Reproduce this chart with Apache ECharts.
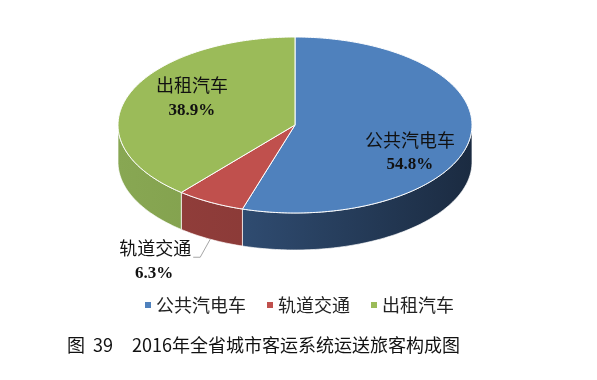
<!DOCTYPE html>
<html>
<head>
<meta charset="utf-8">
<script src="https://cdn.jsdelivr.net/npm/echarts@6/dist/echarts.min.js"></script>
<style>
html,body{margin:0;padding:0;background:#fff;}
#chart{width:597px;height:380px;}
</style>
</head>
<body>
<div id="chart"></div>
<script>
// ---- data ----
const categories = ['公共汽电车', '轨道交通', '出租汽车'];
const values = [54.8, 6.3, 38.9];
const titleText = '2016年全省城市客运系统运送旅客构成图';
const figNo = '图  39';

// ---- styles / layout ----
const topColors = ['#4F81BD', '#C0504D', '#9BBB59'];
const wallColors = [['#3A5D8A', '#1B2B41'], ['#943F3C', '#7D3331'], ['#88A753', '#73903E']];
const CX = 295, CY = 125, RX = 177, RY = 88, DEPTH = 37;
const labelNudge = [[-4, 19], [0, 0], [10, -6]];
const outsideLabel = [false, true, false];
const serif = "'Liberation Serif','Noto Sans CJK SC'";

const total = values.reduce((a, b) => a + b, 0);
const starts = [];
values.reduce((acc, v, i) => { starts[i] = acc; return acc + v; }, 0);

function pt(t, dy) { return [CX + RX * Math.sin(t), CY - RY * Math.cos(t) + (dy || 0)]; }
function arc(a0, a1, dy) {
  const pts = [];
  const n = Math.max(2, Math.ceil(Math.abs(a1 - a0) / (Math.PI / 180)));
  for (let k = 0; k <= n; k++) pts.push(pt(a0 + (a1 - a0) * k / n, dy));
  return pts;
}

const chart = echarts.init(document.getElementById('chart'), null, { renderer: 'canvas' });

function renderItem(params, api) {
  const i = params.dataIndex;
  const s = api.value(0), v = api.value(1);
  const a0 = s / total * 2 * Math.PI, a1 = (s + v) / total * 2 * Math.PI;
  const children = [];
  const b0 = Math.max(a0, Math.PI / 2), b1 = Math.min(a1, 3 * Math.PI / 2);
  if (b1 > b0) {
    const pts = arc(b0, b1, 0).concat(arc(b1, b0, DEPTH));
    children.push({
      type: 'polygon', shape: { points: pts },
      style: {
        fill: new echarts.graphic.LinearGradient(CX - RX, 0, CX + RX, 0, [
          { offset: 0, color: wallColors[i][0] }, { offset: 1, color: wallColors[i][1] }], true),
        stroke: 'rgba(255,255,255,0.85)', lineWidth: 0.8
      }
    });
  }
  children.push({
    type: 'polygon', shape: { points: [[CX, CY]].concat(arc(a0, a1, 0)) },
    style: { fill: topColors[i], stroke: '#ffffff', lineWidth: 1 }
  });
  const mid = (a0 + a1) / 2;
  const pct = (v / total * 100).toFixed(1) + '%';
  if (!outsideLabel[i]) {
    const p = pt(mid, 0);
    const lx = CX + (p[0] - CX) * 0.68 + labelNudge[i][0];
    const ly = CY + (p[1] - CY) * 0.68 + labelNudge[i][1];
    children.push({ type: 'text', style: { text: categories[i], x: lx, y: ly - 11, align: 'center', verticalAlign: 'middle', font: 'normal 18px ' + serif, fill: '#111' } });
    children.push({ type: 'text', style: { text: pct, x: lx, y: ly + 12, align: 'center', verticalAlign: 'middle', font: 'bold 17px ' + serif, fill: '#111' } });
  } else {
    const p0 = pt(mid, DEPTH);
    const p1 = [p0[0] - 10, p0[1] + 18];
    const p2 = [p1[0] - 7, p1[1]];
    children.push({ type: 'polyline', shape: { points: [p0, p1, p2] }, style: { stroke: '#A6A6A6', lineWidth: 1, fill: null } });
    const tx = p2[0] - 2;
    children.push({ type: 'text', style: { text: categories[i], x: tx, y: p2[1] - 7, align: 'right', verticalAlign: 'middle', font: 'normal 18px ' + serif, fill: '#111' } });
    children.push({ type: 'text', style: { text: pct, x: tx - 37, y: p2[1] + 16, align: 'center', verticalAlign: 'middle', font: 'bold 17px ' + serif, fill: '#111' } });
  }
  return { type: 'group', children: children };
}

chart.setOption({
  animation: false,
  backgroundColor: '#ffffff',
  title: {
    left: 62, top: 331,
    text: '{a|' + figNo + '}{b|' + titleText + '}',
    textStyle: {
      fontWeight: 'normal',
      rich: {
        a: { width: 65, fontSize: 18, fontWeight: 'normal', fontFamily: 'Noto Sans CJK SC', color: '#111' },
        b: { fontSize: 18, fontWeight: 'normal', fontFamily: 'Noto Sans CJK SC', color: '#111' }
      }
    }
  },
  legend: {
    data: categories,
    left: 140, top: 291,
    icon: 'rect', itemWidth: 6, itemHeight: 6, itemGap: 21,
    textStyle: { fontSize: 18, fontFamily: 'Noto Sans CJK SC', color: '#222' }
  },
  series: [
    {
      type: 'custom', name: 'main', coordinateSystem: 'none',
      renderItem: renderItem,
      data: values.map((v, i) => [starts[i], v]),
      silent: true
    },
    {
      type: 'pie', name: 'legendProxy', radius: [0, 0], center: [-100, -100],
      label: { show: false }, labelLine: { show: false }, silent: true,
      data: categories.map((c, i) => ({ name: c, value: values[i], itemStyle: { color: topColors[i] } }))
    }
  ]
});
</script>
</body>
</html>
